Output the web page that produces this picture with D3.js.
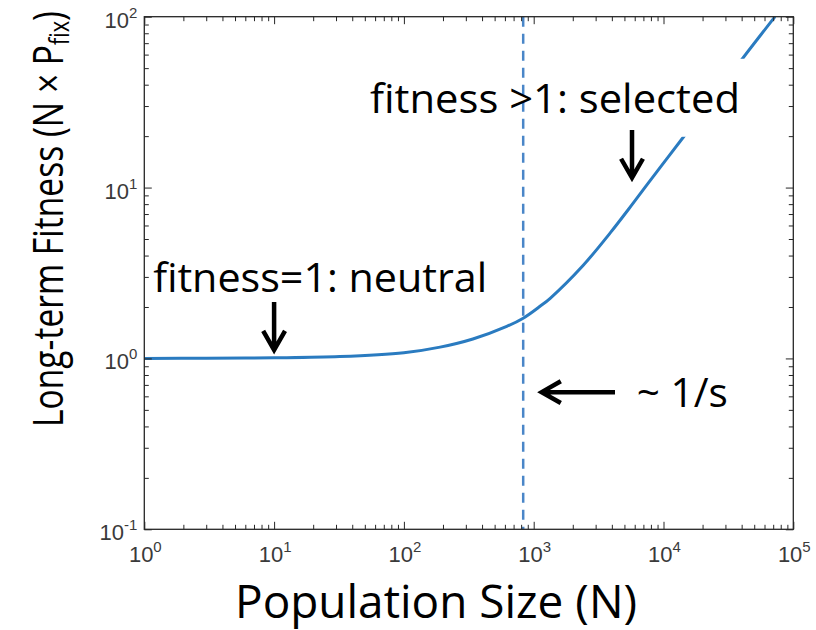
<!DOCTYPE html>
<html>
<head>
<meta charset="utf-8">
<script src="https://cdn.jsdelivr.net/npm/d3@7"></script>
<style>
  body { margin: 0; background: #fff; }
  svg { display: block; }
  .lbl { font-family: "Liberation Sans", Arial, sans-serif; fill: #3a3a3a; }
  .note { font-family: "Open Sans", sans-serif; fill: #000; }
</style>
</head>
<body>
<script>
// values
var popSize = [1, 3, 10, 32, 100, 190, 340, 620, 830, 1120, 1340, 2400, 3900, 5800, 9400, 14200, 40000, 72300];
var fitness = [1.00, 1.002, 1.008, 1.025, 1.08, 1.165, 1.30, 1.54, 1.72, 2.02, 2.25, 3.5, 5.45, 8.05, 13.1, 19.7, 56, 100];
var invS = 830;   // dashed line, ~1/s

var xMajor = [1, 10, 100, 1000, 10000, 100000];
var yMajor = [0.1, 1, 10, 100];

// annotations, in data units
var noteText = ["fitness=1: neutral", "fitness >1: selected", "~ 1/s"];
var noteN    = [1.17, 54.8, 6230];
var noteF    = [2.45, 27.4, 0.519];
var noteLen  = [334, 370, 91];
// arrows: [N tail, F tail, N tip, F tip]
var arrows = [
  [10, 2.14, 10, 1.12],
  [5720, 21.7, 5720, 11.4],
  [4230, 0.635, 1152, 0.635]
];

var W = 816, H = 630;
var margin = {top: 16.7, right: 22.7, bottom: 100.7, left: 144.3},
    width = W - margin.left - margin.right,
    height = H - margin.top - margin.bottom;

var svg = d3.select("body").append("svg")
    .attr("width", W)
    .attr("height", H);

var g = svg.append("g")
    .attr("transform", "translate(" + margin.left + "," + margin.top + ")");

var x = d3.scaleLog().domain([1, 1e5]).range([0, width]);
var y = d3.scaleLog().domain([0.1, 100]).range([height, 0]);

g.append("clipPath").attr("id", "clip")
  .append("rect").attr("width", width).attr("height", height);

var pts = popSize.map(function(n, i) { return [n, fitness[i]]; });

var line = d3.line()
    .x(function(d) { return x(d[0]); })
    .y(function(d) { return y(d[1]); })
    .curve(d3.curveCatmullRom.alpha(0.5));

g.append("path")
    .datum(pts)
    .attr("clip-path", "url(#clip)")
    .attr("fill", "none")
    .attr("stroke", "#2a7bc0")
    .attr("stroke-width", 3)
    .attr("d", line);

// notes
var notes = g.selectAll(".note")
    .data(noteText)
  .enter().append("text")
    .attr("class", "note")
    .attr("x", function(d, i) { return x(noteN[i]); })
    .attr("y", function(d, i) { return y(noteF[i]); })
    .attr("font-size", function(d, i) { return i == 1 ? 41 : 40; })
    .attr("textLength", function(d, i) { return noteLen[i]; })
    .attr("lengthAdjust", "spacingAndGlyphs")
    .text(function(d) { return d; });

// white box behind the "selected" note hides the curve
var bb = notes.filter(function(d, i) { return i == 1; }).node().getBBox();
g.insert("rect", ".note")
    .attr("x", bb.x - 5)
    .attr("y", bb.y - 10)
    .attr("width", bb.width + 13)
    .attr("height", bb.height + 22)
    .attr("fill", "#fff");

g.insert("line", ".note")
    .attr("x1", x(invS)).attr("x2", x(invS))
    .attr("y1", 0).attr("y2", height)
    .attr("stroke", "#4a86c8")
    .attr("stroke-width", 2.5)
    .attr("stroke-dasharray", "10,7");

// arrows
function arrowPath(a) {
  var x0 = x(a[0]), y0 = y(a[1]), x1 = x(a[2]), y1 = y(a[3]);
  var ang = Math.atan2(y1 - y0, x1 - x0), len = 22, spread = 0.52;
  var p = d3.path();
  p.moveTo(x0, y0); p.lineTo(x1, y1);
  p.moveTo(x1 - len * Math.cos(ang - spread), y1 - len * Math.sin(ang - spread));
  p.lineTo(x1, y1);
  p.lineTo(x1 - len * Math.cos(ang + spread), y1 - len * Math.sin(ang + spread));
  return p.toString();
}

g.selectAll(".arrow")
    .data(arrows)
  .enter().append("path")
    .attr("class", "arrow")
    .attr("d", arrowPath)
    .attr("fill", "none")
    .attr("stroke", "#000")
    .attr("stroke-width", 4.5)
    .attr("stroke-linejoin", "miter");

// axes: ticks point inward on all four sides
function isMajor(v) { return Math.abs(Math.log10(v) - Math.round(Math.log10(v))) < 1e-9; }
var xMinor = x.ticks().filter(function(v) { return !isMajor(v); });
var yMinor = y.ticks().filter(function(v) { return !isMajor(v); });

function sup(sel) {
  sel.each(function(d) {
    var t = d3.select(this).text("");
    t.append("tspan").text("10");
    t.append("tspan").attr("dy", -10).attr("font-size", 15).text(Math.round(Math.log10(d)));
  });
}

var axes = [
  [d3.axisBottom(x), "translate(0," + height + ")", xMajor, xMinor],
  [d3.axisTop(x), null, xMajor, xMinor],
  [d3.axisLeft(y), null, yMajor, yMinor],
  [d3.axisRight(y), "translate(" + width + ",0)", yMajor, yMinor]
];

axes.forEach(function(a) {
  var maj = g.append("g").attr("transform", a[1])
      .call(a[0].tickValues(a[2]).tickSize(-7.5).tickFormat(""));
  var mnr = g.append("g").attr("transform", a[1])
      .call(a[0].tickValues(a[3]).tickSize(-4.5).tickFormat(""));
  [maj, mnr].forEach(function(s) {
    s.select(".domain").remove();
    s.selectAll("line").attr("stroke", "#262626");
  });
});

// tick labels
g.selectAll(".xl")
    .data(xMajor)
  .enter().append("text")
    .attr("class", "lbl")
    .attr("font-size", 22)
    .attr("text-anchor", "middle")
    .attr("x", function(d) { return x(d) + 1; })
    .attr("y", height + 32.5)
    .text(String)
    .call(sup);

g.selectAll(".yl")
    .data(yMajor)
  .enter().append("text")
    .attr("class", "lbl")
    .attr("font-size", 22)
    .attr("text-anchor", "end")
    .attr("x", -7)
    .attr("y", function(d) { return y(d) + 11; })
    .text(String)
    .call(sup);

g.append("rect")
    .attr("width", width)
    .attr("height", height)
    .attr("fill", "none")
    .attr("stroke", "#262626")
    .attr("stroke-width", 1.3);

// axis titles
svg.append("text")
    .attr("class", "note")
    .attr("x", 436)
    .attr("y", 618)
    .attr("font-size", 45)
    .attr("text-anchor", "middle")
    .attr("textLength", 402)
    .attr("lengthAdjust", "spacingAndGlyphs")
    .text("Population Size (N)");

var yt = svg.append("text")
    .attr("class", "note")
    .attr("transform", "translate(63,219) rotate(-90)")
    .attr("font-size", 42)
    .attr("text-anchor", "middle")
    .attr("textLength", 416)
    .attr("lengthAdjust", "spacingAndGlyphs");
yt.append("tspan").text("Long-term Fitness (N \u00d7 P");
yt.append("tspan").attr("font-size", 27).attr("dy", 6).text("fix");
yt.append("tspan").attr("dy", -6).text(")");
</script>
</body>
</html>
